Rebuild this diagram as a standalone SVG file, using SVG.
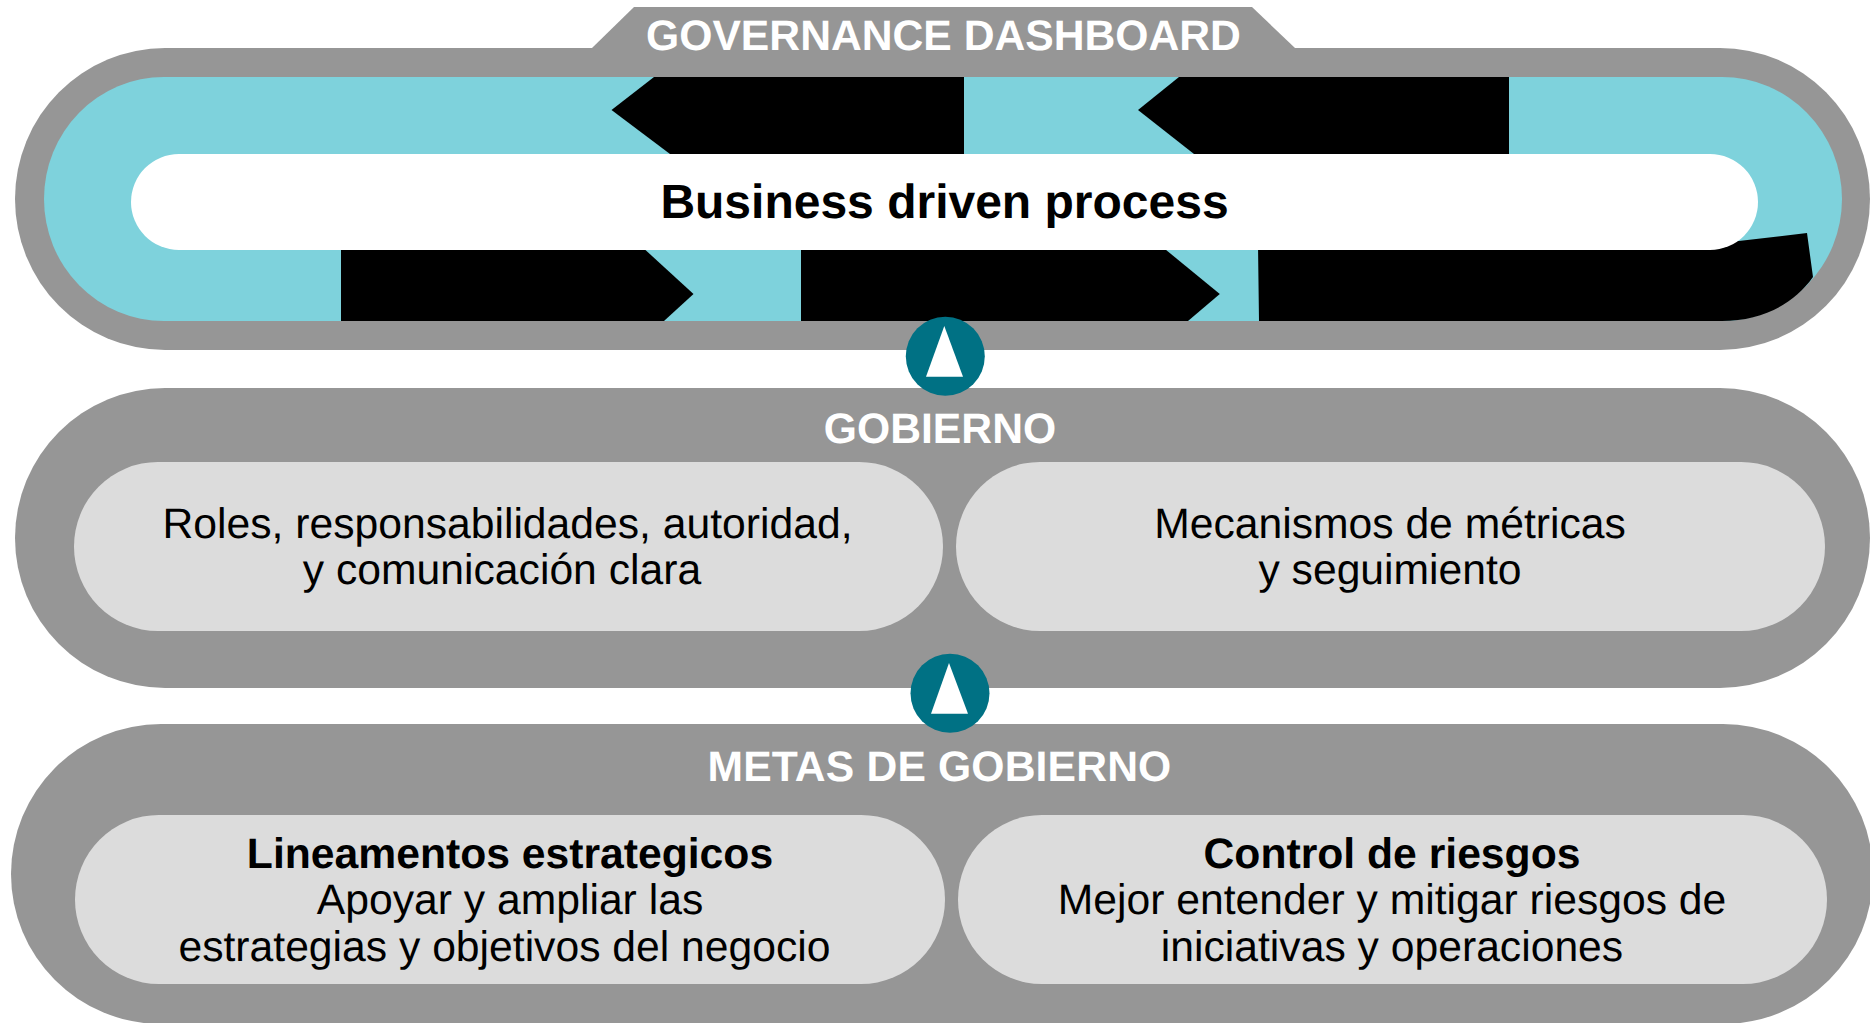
<svg xmlns="http://www.w3.org/2000/svg" width="1870" height="1023" viewBox="0 0 1870 1023">
<style>
.g{fill:#969696}.l{fill:#dcdcdc}.b{fill:#000}.c{fill:#007184}.w{fill:#fff}
text{font-family:"Liberation Sans",Arial,sans-serif;text-anchor:middle;text-rendering:geometricPrecision}
.h{font-size:42.670px;font-weight:700;fill:#fff}
.t{font-size:42.670px;fill:#000}
.tb{font-size:42.670px;font-weight:700;fill:#000}
</style>
<rect width="1870" height="1023" fill="#fff"/>
<g id="dashboard">
<path class="g" d="M592 48L634 7H1252L1295 48Z"/>
<rect class="g" x="15" y="48" width="1855" height="302" rx="150" ry="151"/>
<rect x="44" y="77" width="1798" height="244" rx="120" ry="122" fill="#7ed2dc"/>
<path class="b" d="M964 77H654L611.500 110L670 154H964Z"/>
<path class="b" d="M1509 77H1179L1138 110L1194 154H1509Z"/>
<path class="b" d="M341 245H640L693.500 294L664 321H341Z"/>
<path class="b" d="M801 245H1160L1219.800 294L1188 321H801Z"/>
<path class="b" d="M1258 245L1259 321H1722C1762 321 1794 304 1813 277L1807 233L1730 242Z"/>
<rect class="w" x="131" y="154" width="1627" height="96" rx="48" ry="48"/>
<text class="h" x="943.500" y="50">GOVERNANCE DASHBOARD</text>
<text x="944.500" y="218" style="font-size:48px;font-weight:700">Business driven process</text>
</g>
<g id="gobierno">
<rect class="g" x="15" y="388" width="1855" height="300" rx="150" ry="150"/>
<text class="h" x="940" y="443">GOBIERNO</text>
<rect class="l" x="74" y="462" width="869" height="169" rx="84" ry="84.500"/>
<text class="t" x="507.500" y="538">Roles, responsabilidades, autoridad,</text>
<text class="t" x="502" y="584">y comunicación clara</text>
<rect class="l" x="956" y="462" width="869" height="169" rx="84" ry="84.500"/>
<text class="t" x="1390" y="538">Mecanismos de métricas</text>
<text class="t" x="1390" y="584">y seguimiento</text>
</g>
<g id="metas">
<rect class="g" x="11" y="724" width="1862" height="300" rx="150" ry="150"/>
<text class="h" x="939.500" y="781" style="letter-spacing:.15px">METAS DE GOBIERNO</text>
<rect class="l" x="75" y="815" width="870" height="169" rx="84" ry="84.500"/>
<text class="tb" x="510" y="867.500">Lineamentos estrategicos</text>
<text class="t" x="510" y="914">Apoyar y ampliar las</text>
<text class="t" x="504.500" y="961">estrategias y objetivos del negocio</text>
<rect class="l" x="958" y="815" width="869" height="169" rx="84" ry="84.500"/>
<text class="tb" x="1392" y="867.500">Control de riesgos</text>
<text class="t" x="1392" y="914">Mejor entender y mitigar riesgos de</text>
<text class="t" x="1392" y="961">iniciativas y operaciones</text>
</g>
<g id="connectors">
<circle class="c" cx="945.300" cy="356.300" r="39.500"/>
<path class="w" d="M944.300 326L963 376.700H926Z"/>
<circle class="c" cx="950" cy="693.300" r="39.500"/>
<path class="w" d="M949 663L968 713.700H931Z"/>
</g>
</svg>
